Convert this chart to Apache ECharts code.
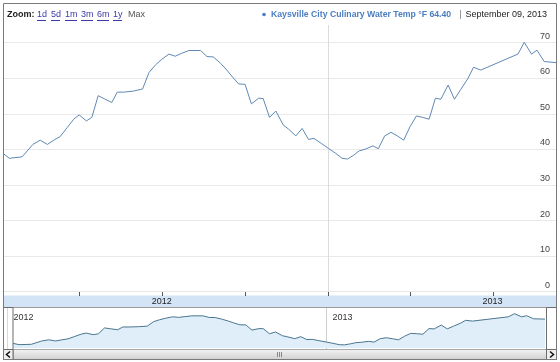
<!DOCTYPE html>
<html><head><meta charset="utf-8">
<script src="https://cdn.jsdelivr.net/npm/echarts@6/dist/echarts.min.js"></script>
<style>html,body{margin:0;padding:0;background:#fff}#c{width:560px;height:362px}</style>
</head><body><div id="c"></div>
<script>
const dates = ['2012-01-08','2012-01-15','2012-01-29','2012-02-10','2012-02-18','2012-02-26','2012-03-04','2012-03-11','2012-03-19','2012-03-26','2012-04-01','2012-04-09','2012-04-15','2012-04-22','2012-04-29','2012-05-07','2012-05-13','2012-05-20','2012-05-31','2012-06-10','2012-06-17','2012-06-24','2012-07-01','2012-07-09','2012-07-16','2012-07-23','2012-07-31','2012-08-13','2012-08-20','2012-08-27','2012-09-04','2012-09-11','2012-09-17','2012-09-24','2012-10-01','2012-10-08','2012-10-16','2012-10-21','2012-10-28','2012-11-04','2012-11-12','2012-11-18','2012-11-26','2012-12-03','2012-12-10','2012-12-16','2012-12-24','2013-01-01','2013-01-09','2013-01-16','2013-01-22','2013-01-29','2013-02-04','2013-02-11','2013-02-19','2013-02-25','2013-03-04','2013-03-11','2013-03-18','2013-03-25','2013-04-01','2013-04-08','2013-04-15','2013-04-22','2013-04-29','2013-05-05','2013-05-13','2013-05-20','2013-05-27','2013-06-04','2013-06-10','2013-06-18','2013-07-08','2013-07-29','2013-08-05','2013-08-13','2013-08-19','2013-08-27','2013-09-09'];
const temps = [38.9,37.5,37.9,41.4,42.6,41.4,42.6,43.6,46.2,48.5,49.7,48.0,49.0,55.1,54.2,53.2,56.1,56.1,56.4,57.0,61.6,63.7,65.3,66.8,66.2,67.0,67.8,67.8,66.1,66.0,64.2,62.3,60.4,58.4,58.3,52.8,54.4,54.3,49.0,50.8,46.9,45.7,43.8,45.9,42.8,43.1,41.7,40.3,38.9,37.5,37.3,38.4,39.6,40.1,41.0,40.2,43.8,44.8,43.8,42.6,46.4,49.4,49.0,48.5,54.4,54.1,58.1,54.1,56.9,60.0,63.1,62.3,64.5,66.8,70.1,66.8,67.9,64.7,64.4];
const yearLabels = ['2012','2013'];
const yearLabelDates = ['2012-07-01','2013-07-01'];
const yearStartDates = ['2012-01-01','2013-01-01'];
const quarterTickDates = ['2012-04-01','2012-07-01','2012-10-01','2013-01-01','2013-04-01','2013-07-01'];
const zoomLinks = ['1d','5d','1m','3m','6m','1y'];
const seriesName = 'Kaysville City Culinary Water Temp °F';
const lastValueText = '64.40';
const lastDateText = 'September 09, 2013';

const ts = s => new Date(s + 'T00:00:00Z').getTime();
const data = dates.map((d, i) => [ts(d), temps[i]]);
const tMin = ts(dates[0]), tMax = ts(dates[dates.length - 1]);

const chart = echarts.init(document.getElementById('c'), null, {renderer: 'canvas'});
const FONT = '"Liberation Sans", Arial, sans-serif';
chart.setOption({
  animation: false,
  grid: [
    {left: 3, right: 4, top: 42.7, bottom: 70.3},
    {left: 13, right: 15, top: 309, bottom: 14}
  ],
  xAxis: [
    {type: 'time', gridIndex: 0, min: tMin, max: tMax, axisLine: {show: false}, axisTick: {show: false}, axisLabel: {show: false}, splitLine: {show: false}},
    {type: 'time', gridIndex: 1, min: tMin, max: tMax, axisLine: {show: false}, axisTick: {show: false}, axisLabel: {show: false}, splitLine: {show: false}}
  ],
  yAxis: [
    {type: 'value', gridIndex: 0, position: 'right', min: 0, max: 70, interval: 10,
     axisLine: {show: false}, axisTick: {show: false},
     axisLabel: {inside: true, margin: 6, color: '#444', fontSize: 9, fontFamily: FONT, verticalAlign: 'bottom', padding: [0, 0, 2, 0]},
     splitLine: {lineStyle: {color: '#e9e9e9', width: 1}}},
    {type: 'value', gridIndex: 1, min: 34, max: 75, show: false, splitLine: {show: false}}
  ],
  series: [
    {type: 'line', xAxisIndex: 0, yAxisIndex: 0, data: data, showSymbol: false, clip: false,
     lineStyle: {color: '#5f88b2', width: 1}, z: 5},
    {type: 'line', xAxisIndex: 1, yAxisIndex: 1, data: data, showSymbol: false,
     lineStyle: {color: '#4a7690', width: 1}, areaStyle: {color: '#dfeef9', opacity: 1}, z: 5}
  ]
});

const px = (axis, d) => chart.convertToPixel({xAxisIndex: axis}, ts(d));
const g = [];
// outer frame
g.push({type: 'rect', shape: {x: 3.5, y: 3.5, width: 553, height: 356}, style: {fill: null, stroke: '#7a7a7a', lineWidth: 1}, z: 50});
// header
g.push({type: 'text', x: 7, y: 15, style: {text: 'Zoom:', font: 'bold 9px ' + FONT, fill: '#222', verticalAlign: 'middle'}, z: 60});
const linkX = [37, 51, 65, 81, 97, 113];
zoomLinks.forEach((t, i) => {
  g.push({type: 'text', x: linkX[i], y: 15, style: {text: t, font: '9px ' + FONT, fill: '#3a3aa6', verticalAlign: 'middle'}, z: 60});
  g.push({type: 'line', shape: {x1: linkX[i], y1: 20.5, x2: linkX[i] + (t.length === 2 && t[1] === 'm' ? 12 : 9), y2: 20.5}, style: {stroke: '#3a3aa6', lineWidth: 1}, z: 60});
});
g.push({type: 'text', x: 128, y: 15, style: {text: 'Max', font: '9px ' + FONT, fill: '#555', verticalAlign: 'middle'}, z: 60});
g.push({type: 'circle', shape: {cx: 264, cy: 14.5, r: 1.8}, style: {fill: '#4a7ec0'}, z: 60});
g.push({type: 'text', x: 271, y: 15, style: {text: seriesName + ' ' + lastValueText, font: 'bold 8.7px ' + FONT, fill: '#4a7ec0', verticalAlign: 'middle'}, z: 60});
g.push({type: 'line', shape: {x1: 460.5, y1: 10, x2: 460.5, y2: 19}, style: {stroke: '#999', lineWidth: 1}, z: 60});
g.push({type: 'text', x: 547, y: 15, style: {text: lastDateText, font: '9px ' + FONT, fill: '#222', align: 'right', verticalAlign: 'middle'}, z: 60});
// main vertical year lines
yearStartDates.forEach(d => {
  const x = Math.round(px(0, d)) + 0.5;
  if (x > 4 && x < 555) g.push({type: 'line', shape: {x1: x, y1: 25, x2: x, y2: 295}, style: {stroke: '#dcdcdc', lineWidth: 1}, z: 1});
});
// axis band
g.push({type: 'rect', shape: {x: 4, y: 295.5, width: 552, height: 11.5}, style: {fill: '#d3e4f7'}, z: 2});
quarterTickDates.forEach(d => {
  const x = Math.round(px(0, d)) + 0.5;
  g.push({type: 'line', shape: {x1: x, y1: 292, x2: x, y2: 296}, style: {stroke: '#555', lineWidth: 1}, z: 3});
});
yearLabels.forEach((t, i) => {
  g.push({type: 'text', x: px(0, yearLabelDates[i]), y: 301.5, style: {text: t, font: '9px ' + FONT, fill: '#222', align: 'center', verticalAlign: 'middle'}, z: 3});
});
g.push({type: 'line', shape: {x1: 3, y1: 307.5, x2: 557, y2: 307.5}, style: {stroke: '#9a9a9a', lineWidth: 1}, z: 4});
// navigator year lines + labels
yearStartDates.forEach((d, i) => {
  const x = Math.round(px(1, d)) + 0.5;
  g.push({type: 'line', shape: {x1: x, y1: 308, x2: x, y2: 349}, style: {stroke: '#cfcfcf', lineWidth: 1}, z: 1});
  g.push({type: 'text', x: x + 6, y: 318, style: {text: yearLabels[i], font: '9px ' + FONT, fill: '#333', verticalAlign: 'middle'}, z: 6});
});
// scrollbar
g.push({type: 'rect', shape: {x: 3.5, y: 349.5, width: 553, height: 10}, style: {fill: new echarts.graphic.LinearGradient(0, 0, 0, 1, [{offset: 0, color: '#f4f4f4'}, {offset: 1, color: '#cfcfcf'}]), stroke: '#a8a8a8', lineWidth: 1}, z: 40});
[277, 279, 281].forEach(x => g.push({type: 'line', shape: {x1: x + 0.5, y1: 352, x2: x + 0.5, y2: 357}, style: {stroke: '#888', lineWidth: 1}, z: 41}));
// handles
g.push({type: 'rect', shape: {x: 3.5, y: 307.5, width: 9.5, height: 52}, style: {fill: 'rgba(255,255,255,0.2)', stroke: '#6d6d6d', lineWidth: 1}, z: 45});
g.push({type: 'rect', shape: {x: 546.5, y: 307.5, width: 10, height: 52}, style: {fill: 'rgba(255,255,255,0.2)', stroke: '#6d6d6d', lineWidth: 1}, z: 45});
g.push({type: 'rect', shape: {x: 3.5, y: 349.5, width: 9.5, height: 10}, style: {fill: '#efefef', stroke: '#6d6d6d', lineWidth: 1}, z: 46});
g.push({type: 'rect', shape: {x: 546.5, y: 349.5, width: 10, height: 10}, style: {fill: '#efefef', stroke: '#6d6d6d', lineWidth: 1}, z: 46});
g.push({type: 'polyline', shape: {points: [[10, 351.5], [6.5, 354.5], [10, 357.5]]}, style: {stroke: '#111', lineWidth: 1.5, fill: null}, z: 47});
g.push({type: 'polyline', shape: {points: [[550, 351.5], [553.5, 354.5], [550, 357.5]]}, style: {stroke: '#111', lineWidth: 1.5, fill: null}, z: 47});
chart.setOption({graphic: {elements: g}});
</script></body></html>
